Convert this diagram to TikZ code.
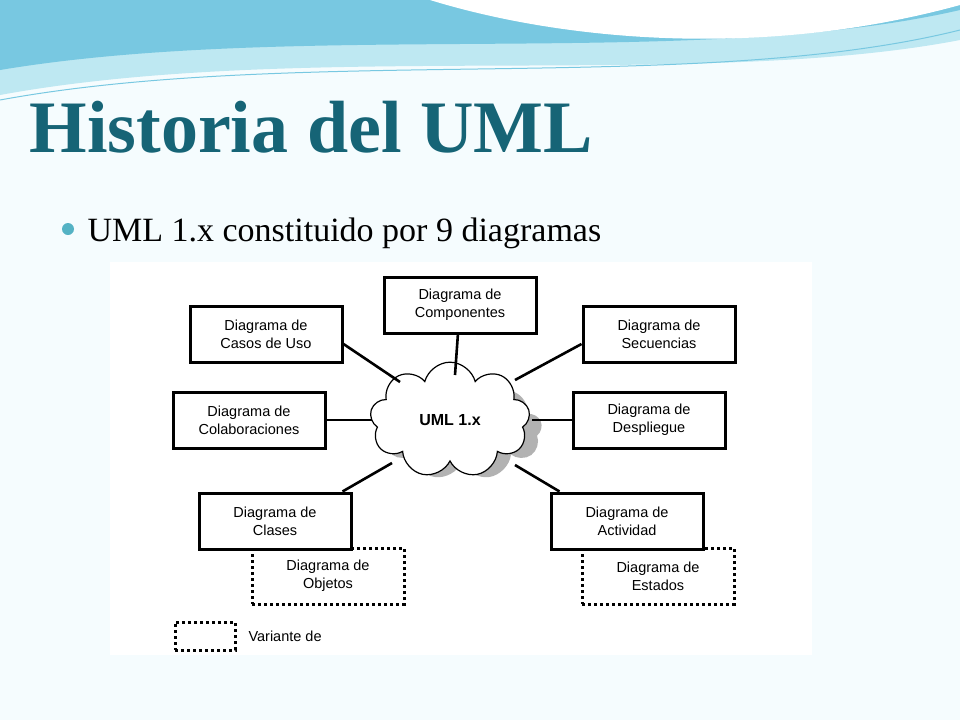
\documentclass[tikz,border=0pt]{standalone}
\usepackage{fontspec}
\setmainfont{Liberation Serif}
\setsansfont{Liberation Sans}
\usetikzlibrary{shapes.symbols}
\definecolor{titleteal}{RGB}{22,100,118}
\definecolor{waveblue}{RGB}{120,200,225}
\definecolor{wavelight}{RGB}{190,232,242}
\tikzset{
  diag/.style={draw=black,line width=3pt,fill=white,minimum width=152pt,minimum height=56pt,
    align=center,font=\sffamily\fontsize{14.5}{18}\selectfont},
  variant/.style={diag,dash pattern=on 3pt off 3pt},
  link/.style={line width=2.6pt}
}
\begin{document}
\begin{tikzpicture}[x=1pt,y=-1pt]
    \fill [white!96!cyan] (0,0) rectangle (960,720);
    \useasboundingbox (0,0) rectangle (960,720);
    % waves at the top
    \fill [wavelight] (0,0) -- (960,0) -- (960,40) .. controls (700,90) and (300,40) .. (0,95) -- cycle;
    \fill [waveblue] (0,0) -- (960,0) -- (960,10) .. controls (700,70) and (300,20) .. (0,70) -- cycle;
    \fill [white] (430,0) .. controls (560,40) and (760,60) .. (960,5) -- (960,0) -- cycle;
    \draw [waveblue,line width=1pt] (0,100) .. controls (300,45) and (700,95) .. (960,30);
    % title and bullet
    \node [anchor=base west,text=titleteal,font=\bfseries\fontsize{74}{80}\selectfont] (title) at (26,152) {Historia del UML};
    \fill [waveblue!70!teal] (68,229) circle (6);
    \node [anchor=base west,font=\fontsize{34}{38}\selectfont] (bullet) at (84,241) {UML 1.x constituido por 9 diagramas};
    % panel
    \fill [white] (110,262) rectangle (812,655);
    \node [cloud,cloud puffs=9,fill=gray!60,minimum width=160pt,minimum height=100pt] at (462,430) {};
    \node [cloud,cloud puffs=9,draw,fill=white,line width=1.2pt,minimum width=160pt,minimum height=100pt,
      font=\sffamily\bfseries\fontsize{16}{19}\selectfont] (uml) at (450,420) {UML 1.x};
    \node [diag] (comp) at (460,305) {Diagrama de\\Componentes};
    \node [diag] (casos) at (266,334) {Diagrama de\\Casos de Uso};
    \node [diag] (secu) at (659,334) {Diagrama de\\Secuencias};
    \node [diag] (colab) at (249,420) {Diagrama de\\Colaboraciones};
    \node [diag] (despl) at (649,420) {Diagrama de\\Despliegue};
    \node [variant] (objetos) at (328,576) {Diagrama de\\Objetos};
    \node [variant] (estados) at (658,576) {Diagrama de\\Estados};
    \node [diag] (clases) at (275,521) {Diagrama de\\Clases};
    \node [diag] (activ) at (627,521) {Diagrama de\\Actividad};
    \node [variant,minimum width=60pt,minimum height=28pt] (legend) at (205,636) {};
    \node [anchor=west,font=\sffamily\fontsize{14.5}{18}\selectfont] (legtext) at (245,636) {Variante de};
    % connectors
    \draw [link] (comp) -- (455,375);
    \draw [link] (casos.east) ++(0,10) -- (400,382);
    \draw [link] (secu.west) ++(0,10) -- (515,380);
    \draw [link] (colab) -- (372,420);
    \draw [link] (despl) -- (532,420);
    \draw [link] (clases.north east) ++(-10,0) -- (392,463);
    \draw [link] (activ.north west) ++(10,0) -- (515,465);
\end{tikzpicture}
\end{document}
